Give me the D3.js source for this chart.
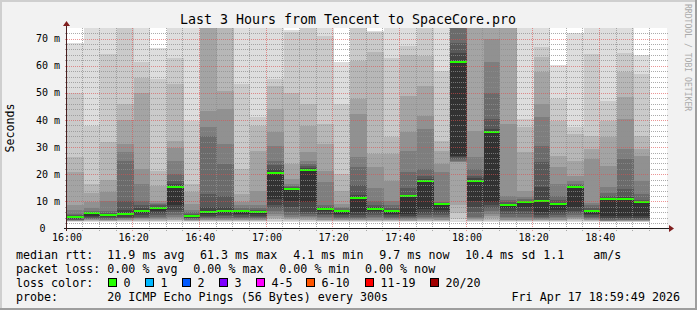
<!DOCTYPE html>
<html><head><meta charset="utf-8">
<script src="https://cdn.jsdelivr.net/npm/d3@7"></script>
<style>
html,body{margin:0;padding:0;background:#f2f2f2}
svg{display:block}
text{font-family:"DejaVu Sans Mono",monospace}
</style>
</head><body>
<svg id="chart" width="697" height="310"></svg>
<script>
// ---------------- data ----------------
const titleText = "Last 3 Hours from Tencent to SpaceCore.pro";
const yLabel = "Seconds";
const watermark = "RRDTOOL / TOBI OETIKER";
const startUTC = [2026, 3, 17, 16, 0];   // 16:00
const endUTC = [2026, 3, 17, 19, 0];     // 19:00
const stepMinutes = 5;
const xTickLabels = ["16:00","16:20","16:40","17:00","17:20","17:40","18:00","18:20","18:40"];
const yTickValues = [0,10,20,30,40,50,60,70];
const yTickLabels = ["0","10 m","20 m","30 m","40 m","50 m","60 m","70 m"];

// median rtt (ms) per 5-minute step
const medianRtt = [4.1,5.6,4.9,5.3,6.6,7.7,15.2,4.5,5.9,6.6,6.4,6.0,20.6,14.5,21.7,7.1,6.4,11.1,7.35,6.4,11.9,17.4,8.9,61.3,17.6,35.7,8.6,9.6,10.0,8.9,15.2,6.4,11.0,10.7,9.7];

// the 20 sorted ping rtts (ms) per step (smoke)
const smokePings = [
 [2.5,2.6,2.7,2.8,2.9,3.0,3.1,3.3,3.5,3.8, 4.1,4.5,4.9,5.4,7.0,8.5,20.7,26.5,50.0,68.5],
 [2.5,2.6,2.8,3.0,3.2,3.4,3.6,3.9,4.2,4.7, 5.6,5.9,6.2,6.6,7.5,9.7,13.0,16.4,37.9,90],
 [2.5,2.6,2.7,2.9,3.1,3.3,3.5,3.8,4.1,4.5, 4.9,5.3,5.8,6.6,10.0,13.5,17.9,31.7,64.2,90],
 [2.5,2.6,2.8,3.0,3.2,3.4,3.7,4.0,4.4,4.8, 5.3,7.0,10.3,25.0,28.3,31.1,40.1,45.8,80,100],
 [2.5,2.7,2.9,3.1,3.4,3.7,4.0,4.4,4.9,5.6, 6.6,7.4,8.5,10.3,16.4,21.9,50.1,55.4,61.5,85],
 [2.5,2.7,2.9,3.1,3.4,3.8,4.3,4.9,5.6,6.6, 7.7,8.1,8.5,9.0,9.5,10.3,15.8,21.3,55.0,66.4],
 [2.5,2.7,3.0,3.3,3.8,4.3,5.0,6.0,7.0,8.5, 15.2,16.4,17.5,20.0,25.0,29.7,32.4,53.2,63.0,90],
 [2.5,2.6,2.7,2.9,3.1,3.3,3.5,3.8,4.0,4.2, 4.5,5.0,5.4,6.0,7.0,9.1,13.4,16.4,39.7,90],
 [2.5,2.6,2.8,3.0,3.2,3.5,3.8,4.2,4.7,5.3, 5.9,8.0,12.7,34.2,37.3,43.4,78,85,95,100],
 [2.5,2.6,2.8,3.0,3.3,3.6,4.0,4.5,5.0,5.7, 6.6,7.8,12.0,23.8,31.1,44.0,50.7,80,90,100],
 [2.5,2.6,2.8,3.0,3.2,3.5,3.8,4.2,4.8,5.5, 6.4,6.7,7.0,7.6,8.5,9.7,12.7,21.9,53.2,90],
 [2.5,2.6,2.8,3.0,3.2,3.5,3.8,4.2,4.7,5.3, 6.0,6.4,6.9,7.5,8.5,14.0,28.7,37.9,40.9,90],
 [2.5,2.9,3.4,4.0,4.7,5.5,6.5,7.4,8.5,11.0, 20.6,22.0,23.5,25.0,30.5,35.4,44.0,52.6,55.0,90],
 [2.5,2.7,3.0,3.4,3.8,4.3,5.0,6.0,8.0,10.3, 14.5,14.9,15.3,15.8,16.5,18.3,23.8,50.1,72.5,73.0],
 [2.5,2.7,3.0,3.3,3.7,4.1,4.6,5.2,6.0,9.7, 21.7,22.3,23.0,23.8,25.0,28.1,37.9,46.0,80,95],
 [2.5,2.6,2.8,3.0,3.3,3.7,4.2,4.8,5.5,6.3, 7.1,7.6,8.0,8.5,17.0,21.3,31.1,38.5,71.0,90],
 [2.5,2.6,2.8,3.0,3.2,3.5,3.8,4.2,4.8,5.5, 6.4,6.7,7.0,7.4,8.0,9.1,14.0,20.1,45.8,61.5],
 [2.5,2.6,2.8,3.0,3.3,3.6,4.0,4.4,5.0,6.0, 11.1,12.5,16.0,22.8,26.2,42.2,47.7,61.8,90,100],
 [2.5,2.6,2.8,3.0,3.3,3.7,4.2,4.8,5.6,6.5, 7.35,7.8,8.5,10.0,15.0,22.5,27.5,65.0,72.5,72.8],
 [2.5,2.6,2.8,3.0,3.2,3.5,3.8,4.2,4.8,5.5, 6.4,6.9,7.5,8.5,10.0,17.6,27.5,33.6,63.0,90],
 [2.5,2.6,2.7,2.9,3.1,3.4,3.7,4.1,4.6,5.4, 11.9,12.5,15.0,20.7,28.7,35.4,48.9,63.8,67.1,90],
 [2.5,2.6,2.9,3.2,3.5,3.9,4.4,5.0,5.8,7.2, 17.4,18.3,19.5,21.9,36.6,41.5,52.6,63.6,85,100],
 [2.5,2.6,2.8,3.0,3.3,3.7,4.2,4.9,5.8,7.0, 8.9,9.1,9.4,9.7,20.7,23.8,28.7,32.4,58.1,90],
 [2.4,3.5,5.6,8.5,24.4,24.6,25.0,25.6,26.2,26.8, 61.3,64.8,68.5,80,85,90,95,100,105,110],
 [2.5,2.6,2.8,3.1,3.4,3.8,4.2,6.0,8.0,10.3, 17.6,18.5,19.5,21.9,26.2,36.0,85,90,95,100],
 [2.5,2.8,3.2,3.8,4.6,5.5,6.5,7.5,8.5,9.7, 35.7,36.5,40.3,49.8,61.2,69.7,80,90,100,110],
 [2.5,2.6,2.8,3.0,3.3,3.7,4.3,5.2,6.3,7.5, 8.6,9.1,9.6,10.5,12.1,38.5,85,90,95,100],
 [2.5,2.6,2.8,3.0,3.3,3.7,4.3,5.2,6.5,8.0, 9.6,9.9,10.3,10.8,11.5,14.0,28.1,37.3,40.3,90],
 [2.5,2.6,2.8,3.0,3.3,3.6,4.0,4.4,5.0,6.0, 10.0,15.2,24.4,30.5,40.9,45.8,57.5,63.2,66.7,90],
 [2.5,2.6,2.8,3.0,3.3,3.7,4.2,4.9,5.8,7.0, 8.9,9.5,10.5,12.0,16.4,22.5,26.8,39.7,47.7,60.2],
 [2.5,2.7,3.0,3.4,3.8,4.3,4.9,5.6,6.5,7.8, 15.2,15.5,15.9,16.5,17.5,19.5,25.0,34.8,37.3,71.9],
 [2.5,2.6,2.8,3.0,3.2,3.5,3.8,4.2,4.8,5.5, 6.4,6.9,7.6,8.5,9.5,25.6,29.3,34.2,64.2,90],
 [2.5,2.55,2.6,2.7,2.8,2.9,3.1,3.4,3.8,4.5, 11.0,11.4,12.0,13.0,15.2,23.2,33.6,39.7,47.1,90],
 [2.5,2.55,2.6,2.7,2.8,3.0,3.2,3.5,3.9,4.5, 10.7,11.5,14.6,25.6,29.3,40.3,48.3,57.5,64.6,90],
 [2.5,2.55,2.6,2.7,2.8,3.0,3.2,3.5,3.9,4.5, 9.7,10.0,10.5,12.7,17.6,26.8,29.3,34.2,56.9,64.0]
];

const legendRtt = ["11.9 ms avg","61.3 ms max","4.1 ms min","9.7 ms now","10.4 ms sd","1.1","am/s"];
const legendLoss = ["0.00 % avg","0.00 % max","0.00 % min","0.00 % now"];
const lossLabels = ["0","1","2","3","4-5","6-10","11-19","20/20"];
const lossColors = ["#26ff00","#00b8ff","#0059ff","#7e00ff","#ff00ff","#ff5500","#ff0000","#a10000"];
const probeText = "20 ICMP Echo Pings (56 Bytes) every 300s";
const stampText = "Fri Apr 17 18:59:49 2026";

// ---------------- layout ----------------
const W = 697, H = 310;
const L = 67, R = 667, T = 28, B = 228;
const svg = d3.select("#chart");

const t0 = new Date(Date.UTC(...startUTC));
const t1 = new Date(Date.UTC(...endUTC));
const x = d3.scaleUtc().domain([t0, t1]).range([L, R]);
const y = d3.scaleLinear().domain([0, 73.87]).range([B + 0.5, T]);
const stepTime = i => new Date(t0.getTime() + i * stepMinutes * 60000);

// background + 3D frame
svg.append("rect").attr("width", W).attr("height", H).attr("fill", "#f2f2f2");
svg.append("path").attr("d", `M0,${H} V0 H${W}`).attr("stroke", "#cfcfcf").attr("stroke-width", 4).attr("fill", "none");
svg.append("path").attr("d", `M${W},0 V${H} H0`).attr("stroke", "#9e9e9e").attr("stroke-width", 4).attr("fill", "none");

// canvas
svg.append("rect").attr("x", L).attr("y", T).attr("width", R - L).attr("height", B - T).attr("fill", "#ffffff");

svg.append("clipPath").attr("id", "plotclip").append("rect")
  .attr("x", L).attr("y", T).attr("width", R - L).attr("height", B - T);

const plot = svg.append("g").attr("clip-path", "url(#plotclip)");

// smoke: band k covers ping[k] .. ping[19-k]
const half = 10;
smokePings.forEach((p, i) => {
  const xa = Math.round(x(stepTime(i))), xb = Math.round(x(stepTime(i + 1)));
  for (let k = 0; k < half; k++) {
    const c = Math.floor(190 / half * (half - (k + 1))) + 50;
    const ya = Math.round(y(p[19 - k])), yb = Math.round(y(p[k]));
    plot.append("rect")
      .attr("x", xa).attr("width", xb - xa)
      .attr("y", ya).attr("height", Math.max(0, yb - ya))
      .attr("fill", d3.rgb(c, c, c))
      .attr("shape-rendering", "crispEdges");
  }
});

// median bars
plot.selectAll("rect.med").data(medianRtt).enter().append("rect")
  .attr("class", "med")
  .attr("x", (d, i) => Math.round(x(stepTime(i))))
  .attr("width", (d, i) => Math.round(x(stepTime(i + 1))) - Math.round(x(stepTime(i))))
  .attr("y", d => Math.round(y(d)) - 1)
  .attr("height", 2)
  .attr("fill", lossColors[0])
  .attr("shape-rendering", "crispEdges");

// grid (dotted, one pixel on / one pixel off)
const grid = svg.append("g");
const minorCol = "rgba(143,143,143,0.75)", majorCol = "rgba(222,79,79,0.6)";
function hDots(yy, x1, x2) {
  let d = "";
  for (let px = x1; px < x2; px += 2) d += `M${px},${yy}h1`;
  return d;
}
function vDots(xx, y1, y2) {
  let d = "";
  for (let py = y2; py > y1; py -= 2) d += `M${xx},${py}v-1`;
  return d;
}
const yGrid = d3.range(2, 73, 2);
yGrid.forEach(v => {
  const yy = Math.round(y(v)) + 0.5;
  grid.append("path").attr("d", hDots(yy, L - 2, R + 1)).attr("fill", "none")
    .attr("stroke", v % 10 === 0 ? majorCol : minorCol).attr("stroke-width", 1);
});
const xGridMin = d3.range(5, 180, 5);
xGridMin.forEach(m => {
  const xx = Math.floor(x(new Date(t0.getTime() + m * 60000)) - 0.6667 + 1e-6) + 0.5;
  grid.append("path").attr("d", vDots(xx, T, B + 3)).attr("fill", "none")
    .attr("stroke", m % 20 === 0 ? majorCol : minorCol).attr("stroke-width", 1);
});

// axes
svg.append("line").attr("x1", L - 3).attr("x2", R + 4).attr("y1", B + 0.5).attr("y2", B + 0.5)
  .attr("stroke", "#1f1f1f").attr("shape-rendering", "crispEdges");
svg.append("line").attr("x1", L - 0.5).attr("x2", L - 0.5).attr("y1", B + 3).attr("y2", T - 4)
  .attr("stroke", "#4a1f1f").attr("shape-rendering", "crispEdges");
svg.append("path").attr("d", `M${R + 2},${B - 3} L${R + 7},${B + 0.5} L${R + 2},${B + 4} Z`).attr("fill", "#801f1f");
svg.append("path").attr("d", `M${L - 4},${T - 2} L${L - 0.5},${T - 7} L${L + 3},${T - 2} Z`).attr("fill", "#801f1f");

// x tick labels
const xt = xTickLabels.map((s, i) => ({ s, t: new Date(t0.getTime() + i * 20 * 60000) }));
svg.selectAll("text.xt").data(xt).enter().append("text")
  .attr("x", d => x(d.t)).attr("y", 240.5)
  .attr("text-anchor", "middle").attr("font-size", "10px").attr("fill", "#000")
  .text(d => d.s);

// y tick labels
svg.selectAll("text.yt").data(yTickValues).enter().append("text")
  .attr("x", (d, i) => i === 0 ? 45.5 : 60).attr("y", d => y(d) + 3.6)
  .attr("text-anchor", "end").attr("font-size", "10px").attr("fill", "#000")
  .text((d, i) => yTickLabels[i]);

// title
svg.append("text").attr("x", 348).attr("y", 24).attr("text-anchor", "middle")
  .attr("font-size", "13.3px").attr("fill", "#000").text(titleText);

// y label
svg.append("text").attr("transform", "translate(14,128) rotate(-90)").attr("text-anchor", "middle")
  .attr("font-size", "11.6px").attr("fill", "#000").text(yLabel);

// watermark
svg.append("text").attr("transform", "translate(685,4) rotate(90)").attr("text-anchor", "start")
  .attr("font-size", "8.1px").attr("fill", "#aaaaaa").text(watermark);

// legend
const fs = "11.66px";
const lg = svg.append("g").attr("font-size", fs).attr("fill", "#000");
const row = (txt, xx, yy) => lg.append("text").attr("x", xx).attr("y", yy).attr("xml:space", "preserve").text(txt);
row("median rtt:", 16, 258.5);
[107.3, 200, 293.3, 379.3, 465, 543.3, 593.3].forEach((xx, i) => row(legendRtt[i], xx, 258.5));
row("packet loss:", 16, 272.5);
[107.3, 193.3, 279.3, 365].forEach((xx, i) => row(legendLoss[i], xx, 272.5));
row("loss color:", 16, 286.5);
const boxX = [108.5, 145.5, 182.5, 219.5, 256.5, 306.5, 365.5, 430.5];
boxX.forEach((bx, i) => {
  lg.append("rect").attr("x", bx).attr("y", 278.5).attr("width", 8).attr("height", 8)
    .attr("fill", lossColors[i]).attr("stroke", "#000").attr("stroke-width", 1);
  row(lossLabels[i], bx + 15, 286.5);
});
row("probe:", 16, 300.5);
row(probeText, 107.3, 300.5);
row(stampText, 680, 300.5).attr("text-anchor", "end");
</script>
</body></html>
